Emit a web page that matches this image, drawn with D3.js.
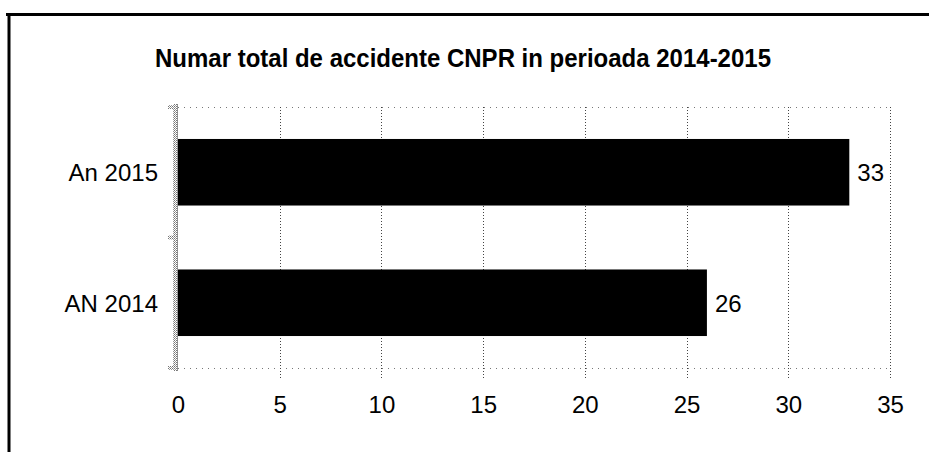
<!DOCTYPE html>
<html>
<head>
<meta charset="utf-8">
<script src="https://cdn.jsdelivr.net/npm/d3@7"></script>
<style>
  body { margin: 0; background: #fff; }
  svg { display: block; font-family: "Liberation Sans", Arial, sans-serif; }
</style>
</head>
<body>
<svg width="929" height="452"></svg>
<script>
var categories = ["An 2015", "AN 2014"];
var values = [33, 26];
var xTicks = [0, 5, 10, 15, 20, 25, 30, 35];
var title = "Numar total de accidente CNPR in perioada 2014-2015";

var svg = d3.select("svg");

var plot = { left: 178, right: 890, top: 107, bottom: 368 };

var x = d3.scaleLinear().domain([0, 35]).range([plot.left, plot.right]);
var y = d3.scaleBand().domain(categories)
  .range([plot.top, plot.bottom])
  .paddingInner(0.49)
  .paddingOuter(0.245);

// frame of the scanned chart (top and left edge only)
svg.append("line")
  .attr("x1", 6).attr("x2", 929).attr("y1", 14.5).attr("y2", 14.5)
  .attr("stroke", "#000").attr("stroke-width", 3);
svg.append("line")
  .attr("x1", 9).attr("x2", 9).attr("y1", 13).attr("y2", 452)
  .attr("stroke", "#000").attr("stroke-width", 3);

// title
svg.append("text")
  .attr("x", 463).attr("y", 67)
  .attr("text-anchor", "middle")
  .attr("transform", "translate(0,67) scale(1,1.08) translate(0,-67)")
  .style("font-size", "24px").style("font-weight", "bold")
  .text(title);

// dotted plot border, top and bottom
svg.append("g").selectAll("line")
  .data([plot.top, plot.bottom])
  .enter().append("line")
  .attr("x1", plot.left).attr("x2", plot.right)
  .attr("y1", function (d) { return d + 0.5; })
  .attr("y2", function (d) { return d + 0.5; })
  .attr("stroke", "#777").attr("stroke-width", 1)
  .attr("stroke-dasharray", "1,5");

// vertical gridlines
svg.append("g").selectAll("line")
  .data(xTicks.slice(1))
  .enter().append("line")
  .attr("x1", function (d) { return Math.round(x(d)) + 0.5; })
  .attr("x2", function (d) { return Math.round(x(d)) + 0.5; })
  .attr("y1", plot.top).attr("y2", plot.bottom + 10)
  .attr("stroke", "#444").attr("stroke-width", 1)
  .attr("stroke-dasharray", "1,2");

// bars
svg.append("g").selectAll("rect")
  .data(values)
  .enter().append("rect")
  .attr("x", x(0))
  .attr("y", function (d, i) { return y(categories[i]); })
  .attr("width", function (d) { return x(d) - x(0); })
  .attr("height", y.bandwidth())
  .attr("fill", "#000");

// value labels
svg.append("g").selectAll("text")
  .data(values)
  .enter().append("text")
  .attr("x", function (d) { return x(d) + 8; })
  .attr("y", function (d, i) { return y(categories[i]) + y.bandwidth() / 2 + 9; })
  .style("font-size", "24px")
  .text(function (d) { return d; });

// hatched gray category axis line
var defs = svg.append("defs");
var pat = defs.append("pattern")
  .attr("id", "hatch").attr("width", 2).attr("height", 2)
  .attr("patternUnits", "userSpaceOnUse");
pat.append("rect").attr("width", 2).attr("height", 2).attr("fill", "#fff");
pat.append("rect").attr("width", 1).attr("height", 1).attr("fill", "#777");
pat.append("rect").attr("x", 1).attr("y", 1).attr("width", 1).attr("height", 1).attr("fill", "#999");

svg.append("rect")
  .attr("x", x(0) - 5).attr("y", plot.top - 3)
  .attr("width", 5).attr("height", plot.bottom - plot.top + 6)
  .attr("fill", "url(#hatch)");
svg.append("line")
  .attr("x1", x(0) - 0.5).attr("x2", x(0) - 0.5)
  .attr("y1", plot.top - 3).attr("y2", plot.bottom + 3)
  .attr("stroke", "#888").attr("stroke-dasharray", "1,1");

// category tick marks at band edges
var edges = [plot.top, (y(categories[0]) + y.bandwidth() + y(categories[1])) / 2, plot.bottom];
svg.append("g").selectAll("rect")
  .data(edges)
  .enter().append("rect")
  .attr("x", x(0) - 10).attr("y", function (d) { return d - 2; })
  .attr("width", 6).attr("height", 4)
  .attr("fill", "url(#hatch)");

// category axis labels
var yAxis = svg.append("g")
  .attr("transform", "translate(" + (x(0) - 20) + ",0)")
  .call(d3.axisLeft(y).tickSize(0).tickPadding(0));
yAxis.select(".domain").remove();
yAxis.selectAll("text")
  .attr("dy", null).attr("y", 9)
  .style("font-size", "24px")
  .style("font-family", "\"Liberation Sans\", Arial, sans-serif")
  .attr("fill", "#000");

// value axis labels
var xAxis = svg.append("g")
  .attr("transform", "translate(0," + plot.bottom + ")")
  .call(d3.axisBottom(x).tickValues(xTicks).tickSize(0).tickPadding(0));
xAxis.select(".domain").remove();
xAxis.selectAll("text")
  .attr("dy", null).attr("y", 45)
  .style("font-size", "24px")
  .style("font-family", "\"Liberation Sans\", Arial, sans-serif")
  .attr("fill", "#000");
</script>
</body>
</html>
